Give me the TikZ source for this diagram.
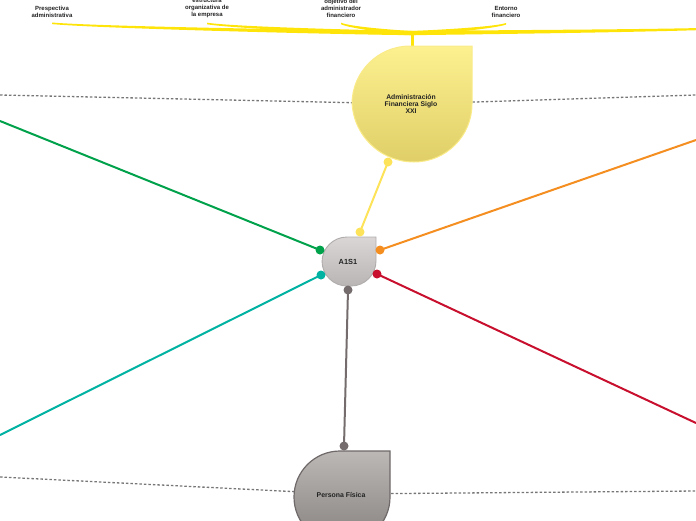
\documentclass[tikz,border=0pt]{standalone}
\usepackage{fontspec}
\setmainfont{Liberation Sans}
\definecolor{txt}{HTML}{222222}
\definecolor{branchY}{HTML}{FFE40A}
\definecolor{connY}{HTML}{FCE35A}
\definecolor{cgreen}{HTML}{00A14B}
\definecolor{corange}{HTML}{F48E20}
\definecolor{cteal}{HTML}{00B2A2}
\definecolor{cred}{HTML}{C8102E}
\definecolor{cgray}{HTML}{756D6D}
\definecolor{dotgray}{HTML}{767676}
\definecolor{mainTop}{HTML}{FCF08F}
\definecolor{mainBot}{HTML}{E0CF68}
\definecolor{mainBrd}{HTML}{FAEB88}
\definecolor{aTop}{HTML}{DAD6D6}
\definecolor{aBot}{HTML}{B9B5B5}
\definecolor{aBrd}{HTML}{B0ACAC}
\definecolor{pTop}{HTML}{BBB8B6}
\definecolor{pBot}{HTML}{878280}
\definecolor{pBrd}{HTML}{6F6969}
\begin{document}
\begin{tikzpicture}[x=1pt,y=1pt,
  lbl/.style={font=\bfseries\fontsize{6}{7}\selectfont, text=txt, align=center, inner sep=0pt},
  ctext/.style={font=\bfseries\fontsize{6.8}{7.2}\selectfont, text=txt, align=center, inner sep=0pt},
  conn/.style={line width=2pt},
  guide/.style={draw=dotgray, line width=1.3pt, dash pattern=on 2.5pt off 2pt}]
\useasboundingbox (0,0) rectangle (696,-520);
\begin{scope}
\clip (0,0) rectangle (696,-520);
% named anchor coordinates
\coordinate (mainC) at (412,-104);
\coordinate (persC) at (342,-494);
\coordinate (gl1) at (0,-95);
\coordinate (gr1) at (696,-95);
\coordinate (gl2) at (0,-477);
\coordinate (gr2) at (696,-491);
\coordinate (fork) at (412,-33);
\coordinate (mainTopPt) at (412,-46);
\coordinate (gEnd) at (0,-121);
\coordinate (oEnd) at (696,-140);
\coordinate (tEnd) at (0,-435);
\coordinate (rEnd) at (696,-423);
% dotted guides
\draw[guide] (gl1) -- (mainC) -- (gr1);
\draw[guide] (gl2) -- (persC) -- (gr2);
% yellow branches (tapered)
\foreach \ex/\ey in {52/23.3, 207/23.5, 341/23.5, 506/23.8, 760/26.5} {
  \pgfmathsetmacro\d{412-\ex}
  \fill[branchY] (\ex,{-\ey+0.8}) .. controls ({\ex+0.12*\d},{-\ey-3.0}) and ({412-0.3*\d},-29.8) .. (412,-31)
     -- (412,-35.2) .. controls ({412-0.3*\d},-33.8) and ({\ex+0.12*\d},{-\ey-4.8}) .. (\ex,{-\ey-0.8}) -- cycle;
}
\draw[branchY, line width=3pt] (fork) -- (mainTopPt);
% top labels
\node[lbl, anchor=south] (l1) at (52,-17.5) {Prespectiva\\administrativa};
\node[lbl, anchor=south] (l2) at (207,-17.5) {estructura\\organizativa de\\la empresa};
\node[lbl, anchor=south] (l3) at (341,-17.5) {objetivo del\\administrador\\financiero};
\node[lbl, anchor=south] (l4) at (506,-17.5) {Entorno\\financiero};
% dots
\coordinate (yA) at (360,-232);
\coordinate (yM) at (388,-162);
\coordinate (gA) at (320,-250);
\coordinate (oA) at (380,-250);
\coordinate (tA) at (321,-275);
\coordinate (rA) at (377,-274);
\coordinate (kA) at (348,-290);
\coordinate (kP) at (344,-446);
% connectors
\draw[conn, connY] (yA) -- (yM);
\draw[conn, cgreen] (gA) -- (gEnd);
\draw[conn, corange] (oA) -- (oEnd);
\draw[conn, cteal] (tA) -- (tEnd);
\draw[conn, cred] (rA) -- (rEnd);
\draw[conn, cgray] (kA) -- (kP);
% main node shape
\shadedraw[top color=mainTop, bottom color=mainBot, draw=mainBrd, line width=1pt]
  (472,-46) -- (472,-104) arc[start angle=0, end angle=-90, radius=58] -- (414,-162)
  arc[start angle=-90, end angle=-180, radius=62] -- (352,-104) arc[start angle=180, end angle=90, radius=58] -- cycle;
\node[ctext] (main) at (411,-104) {Administración\\Financiera Siglo\\XXI};
% A1S1 shape
\shadedraw[top color=aTop, bottom color=aBot, draw=aBrd, line width=0.9pt]
  (376,-237) -- (376,-261) arc[start angle=0, end angle=-90, radius=25] -- (347,-286)
  arc[start angle=-90, end angle=-180, radius=25] -- (322,-262) arc[start angle=180, end angle=90, radius=25] -- cycle;
\node[ctext, font=\bfseries\fontsize{7.4}{8}\selectfont] (a1s1) at (348,-262) {A1S1};
% Persona Fisica shape
\shadedraw[top color=pTop, bottom color=pBot, draw=pBrd, line width=1.2pt]
  (390,-451) -- (390,-497) arc[start angle=0, end angle=-90, radius=46] -- (340,-543)
  arc[start angle=-90, end angle=-180, radius=46] -- (294,-497) arc[start angle=180, end angle=90, radius=46] -- cycle;
\node[ctext, font=\bfseries\fontsize{6.9}{8}\selectfont] (pers) at (341,-495) {Persona Física};
% dots on top
\fill[connY] (yA) circle[radius=4.5];
\fill[connY] (yM) circle[radius=4.5];
\fill[cgreen] (gA) circle[radius=4.5];
\fill[corange] (oA) circle[radius=4.5];
\fill[cteal] (tA) circle[radius=4.5];
\fill[cred] (rA) circle[radius=4.5];
\fill[cgray] (kA) circle[radius=4.5];
\fill[cgray] (kP) circle[radius=4.5];
\end{scope}
\end{tikzpicture}
\end{document}
